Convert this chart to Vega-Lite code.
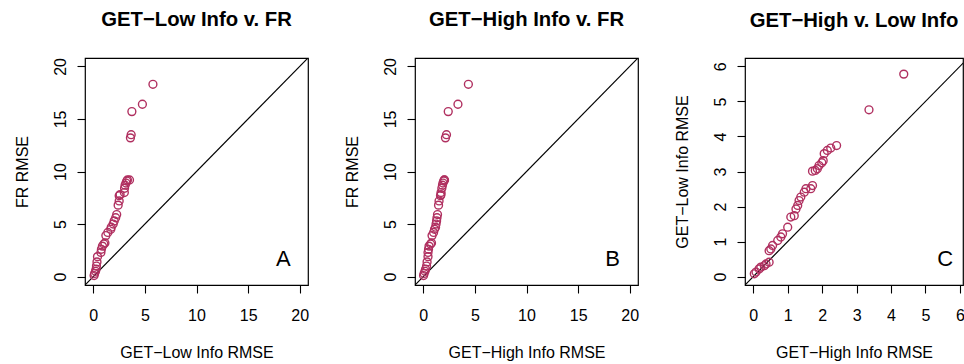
{
  "$schema": "https://vega.github.io/schema/vega-lite/v6.json",
  "background": "white",
  "padding": {"left": 13, "top": 9, "right": 0, "bottom": 0},
  "bounds": "flush",
  "spacing": 107,
  "datasets": {
    "pts": [
      {"FR": 0.1, "Low": 0.08, "High": 0.03},
      {"FR": 0.3, "Low": 0.13, "High": 0.08},
      {"FR": 0.5, "Low": 0.22, "High": 0.17},
      {"FR": 0.7, "Low": 0.27, "High": 0.22},
      {"FR": 1.0, "Low": 0.31, "High": 0.32},
      {"FR": 1.4, "Low": 0.36, "High": 0.37},
      {"FR": 1.9, "Low": 0.41, "High": 0.46},
      {"FR": 2.3, "Low": 0.74, "High": 0.46},
      {"FR": 2.6, "Low": 0.79, "High": 0.51},
      {"FR": 2.9, "Low": 0.89, "High": 0.56},
      {"FR": 3.1, "Low": 1.03, "High": 0.71},
      {"FR": 3.2, "Low": 1.13, "High": 0.80},
      {"FR": 3.9, "Low": 1.22, "High": 0.85},
      {"FR": 4.2, "Low": 1.41, "High": 1.00},
      {"FR": 4.5, "Low": 1.70, "High": 1.09},
      {"FR": 4.7, "Low": 1.74, "High": 1.19},
      {"FR": 5.0, "Low": 1.93, "High": 1.24},
      {"FR": 5.3, "Low": 2.03, "High": 1.29},
      {"FR": 5.6, "Low": 2.17, "High": 1.33},
      {"FR": 5.9, "Low": 2.27, "High": 1.38},
      {"FR": 6.8, "Low": 2.41, "High": 1.48},
      {"FR": 7.2, "Low": 2.51, "High": 1.53},
      {"FR": 7.7, "Low": 2.51, "High": 1.67},
      {"FR": 7.8, "Low": 2.60, "High": 1.72},
      {"FR": 8.0, "Low": 3.01, "High": 1.72},
      {"FR": 8.4, "Low": 3.03, "High": 1.80},
      {"FR": 8.7, "Low": 3.08, "High": 1.86},
      {"FR": 8.9, "Low": 3.17, "High": 1.91},
      {"FR": 9.1, "Low": 3.25, "High": 1.99},
      {"FR": 9.2, "Low": 3.31, "High": 2.03},
      {"FR": 9.2, "Low": 3.51, "High": 2.06},
      {"FR": 13.2, "Low": 3.60, "High": 2.15},
      {"FR": 13.5, "Low": 3.67, "High": 2.25},
      {"FR": 15.7, "Low": 3.74, "High": 2.42},
      {"FR": 16.4, "Low": 4.76, "High": 3.36},
      {"FR": 18.3, "Low": 5.78, "High": 4.37}
    ],
    "diag20": [{"v": -0.8}, {"v": 20.8}],
    "diag6": [{"v": -0.24}, {"v": 6.24}]
  },
  "hconcat": [
    {
      "width": 223, "height": 227,
      "title": {"text": "GET−Low Info v. FR"},
      "layer": [
        {
          "data": {"name": "diag20"},
          "mark": {"type": "line", "color": "black", "strokeWidth": 1.2, "clip": true},
          "encoding": {
            "x": {"field": "v", "type": "quantitative", "scale": {"domain": [-0.8, 20.8], "nice": false, "zero": false}, "axis": {"values": [0, 5, 10, 15, 20], "title": "GET−Low Info RMSE"}},
            "y": {"field": "v", "type": "quantitative", "scale": {"domain": [-0.8, 20.8], "nice": false, "zero": false}, "axis": {"values": [0, 5, 10, 15, 20], "title": "FR RMSE"}}
          }
        },
        {
          "data": {"name": "pts"},
          "mark": {"type": "point", "shape": "circle", "filled": false, "color": "#B03060", "size": 62, "strokeWidth": 1.4, "opacity": 1},
          "encoding": {
            "x": {"field": "Low", "type": "quantitative", "axis": {"values": [0, 5, 10, 15, 20], "title": "GET−Low Info RMSE"}},
            "y": {"field": "FR", "type": "quantitative", "axis": {"values": [0, 5, 10, 15, 20], "title": "FR RMSE"}}
          }
        },
        {
          "data": {"values": [{"label": "A"}]},
          "mark": {"type": "text", "fontSize": 22, "font": "Liberation Sans", "align": "center", "baseline": "alphabetic", "color": "black"},
          "encoding": {
            "x": {"datum": 18.4, "type": "quantitative", "axis": {"values": [0, 5, 10, 15, 20], "title": "GET−Low Info RMSE"}},
            "y": {"datum": 1.05, "type": "quantitative", "axis": {"values": [0, 5, 10, 15, 20], "title": "FR RMSE"}},
            "text": {"field": "label"}
          }
        }
      ]
    },
    {
      "width": 223, "height": 227,
      "title": {"text": "GET−High Info v. FR"},
      "layer": [
        {
          "data": {"name": "diag20"},
          "mark": {"type": "line", "color": "black", "strokeWidth": 1.2, "clip": true},
          "encoding": {
            "x": {"field": "v", "type": "quantitative", "scale": {"domain": [-0.8, 20.8], "nice": false, "zero": false}, "axis": {"values": [0, 5, 10, 15, 20], "title": "GET−High Info RMSE"}},
            "y": {"field": "v", "type": "quantitative", "scale": {"domain": [-0.8, 20.8], "nice": false, "zero": false}, "axis": {"values": [0, 5, 10, 15, 20], "title": "FR RMSE"}}
          }
        },
        {
          "data": {"name": "pts"},
          "mark": {"type": "point", "shape": "circle", "filled": false, "color": "#B03060", "size": 62, "strokeWidth": 1.4, "opacity": 1},
          "encoding": {
            "x": {"field": "High", "type": "quantitative", "axis": {"values": [0, 5, 10, 15, 20], "title": "GET−High Info RMSE"}},
            "y": {"field": "FR", "type": "quantitative", "axis": {"values": [0, 5, 10, 15, 20], "title": "FR RMSE"}}
          }
        },
        {
          "data": {"values": [{"label": "B"}]},
          "mark": {"type": "text", "fontSize": 22, "font": "Liberation Sans", "align": "center", "baseline": "alphabetic", "color": "black"},
          "encoding": {
            "x": {"datum": 18.35, "type": "quantitative", "axis": {"values": [0, 5, 10, 15, 20], "title": "GET−High Info RMSE"}},
            "y": {"datum": 1.05, "type": "quantitative", "axis": {"values": [0, 5, 10, 15, 20], "title": "FR RMSE"}},
            "text": {"field": "label"}
          }
        }
      ]
    },
    {
      "width": 218, "height": 227,
      "title": {"text": "GET−High v. Low Info"},
      "layer": [
        {
          "data": {"name": "diag6"},
          "mark": {"type": "line", "color": "black", "strokeWidth": 1.2, "clip": true},
          "encoding": {
            "x": {"field": "v", "type": "quantitative", "scale": {"domain": [-0.24, 6.09], "nice": false, "zero": false}, "axis": {"values": [0, 1, 2, 3, 4, 5, 6], "title": "GET−High Info RMSE"}},
            "y": {"field": "v", "type": "quantitative", "scale": {"domain": [-0.24, 6.24], "nice": false, "zero": false}, "axis": {"values": [0, 1, 2, 3, 4, 5, 6], "title": "GET−Low Info RMSE"}}
          }
        },
        {
          "data": {"name": "pts"},
          "mark": {"type": "point", "shape": "circle", "filled": false, "color": "#B03060", "size": 62, "strokeWidth": 1.4, "opacity": 1},
          "encoding": {
            "x": {"field": "High", "type": "quantitative", "axis": {"values": [0, 1, 2, 3, 4, 5, 6], "title": "GET−High Info RMSE"}},
            "y": {"field": "Low", "type": "quantitative", "axis": {"values": [0, 1, 2, 3, 4, 5, 6], "title": "GET−Low Info RMSE"}}
          }
        },
        {
          "data": {"values": [{"label": "C"}]},
          "mark": {"type": "text", "fontSize": 22, "font": "Liberation Sans", "align": "center", "baseline": "alphabetic", "color": "black"},
          "encoding": {
            "x": {"datum": 5.57, "type": "quantitative", "axis": {"values": [0, 1, 2, 3, 4, 5, 6], "title": "GET−High Info RMSE"}},
            "y": {"datum": 0.31, "type": "quantitative", "axis": {"values": [0, 1, 2, 3, 4, 5, 6], "title": "GET−Low Info RMSE"}},
            "text": {"field": "label"}
          }
        }
      ]
    }
  ],
  "config": {
    "font": "Liberation Sans",
    "view": {"stroke": "black", "strokeWidth": 1.2},
    "title": {"fontSize": 20.3, "fontWeight": "bold", "font": "Liberation Sans", "color": "black", "anchor": "middle", "offset": 27},
    "axis": {
      "domain": false, "grid": false,
      "tickColor": "black", "tickSize": 8, "tickWidth": 1.1,
      "labelFontSize": 16, "labelColor": "black", "labelFont": "Liberation Sans",
      "labelFlush": false, "labelOverlap": false,
      "titleFontSize": 16, "titleFontWeight": "normal", "titleColor": "black", "titleFont": "Liberation Sans"
    },
    "axisX": {"labelPadding": 14, "titlePadding": 21, "labelAngle": 0},
    "axisY": {"labelAngle": -90, "labelAlign": "center", "labelBaseline": "bottom", "labelPadding": 9, "titlePadding": 22}
  }
}
